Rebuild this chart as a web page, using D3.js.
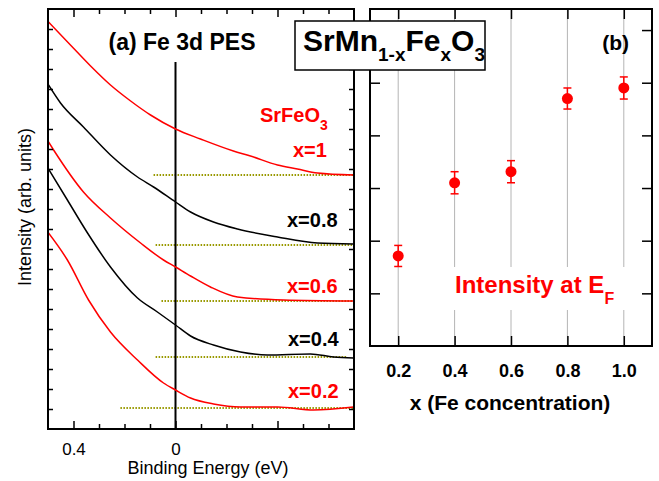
<!DOCTYPE html>
<html><head><meta charset="utf-8">
<script src="https://cdn.jsdelivr.net/npm/d3@7"></script>
<style>
body{margin:0;background:#fff;}
svg{font-family:"Liberation Sans",Arial,sans-serif;}
</style></head>
<body><svg id="c" width="659" height="481"></svg>
<script>
// ---- Panel (a): Fe 3d PES spectra (binding energy eV, intensity arb. units) ----
const seriesNames = ["x=1", "x=0.8", "x=0.6", "x=0.4", "x=0.2"];
const seriesColors = ["#ff0000", "#000000", "#ff0000", "#000000", "#ff0000"];
const specE_x10 = [0.498,0.412,0.333,0.255,0.176,0.098,0,-0.098,-0.227,-0.294,-0.4,-0.478,-0.557,-0.698];
const specI_x10 = [20.35,19.2,18.15,17.2,16.4,15.7,15.0,14.5,13.9,13.65,13.2,13.0,12.8,12.7];
const specE_x08 = [0.498,0.451,0.361,0.255,0.149,0.086,0,-0.059,-0.149,-0.243,-0.4,-0.557,-0.698];
const specI_x08 = [17.2,16.3,15.1,13.7,12.6,12.1,11.35,10.85,10.35,10.0,9.6,9.3,9.25];
const specE_x06 = [0.498,0.478,0.361,0.255,0.137,0.047,0,-0.059,-0.137,-0.243,-0.424,-0.698];
const specI_x06 = [14.35,13.95,11.85,10.55,9.3,8.45,8.1,7.65,7.1,6.6,6.45,6.4];
const specE_x04 = [0.498,0.424,0.345,0.255,0.149,0.071,0,-0.059,-0.149,-0.255,-0.361,-0.529,-0.62,-0.698];
const specI_x04 = [13.0,11.45,9.8,8.1,6.55,5.85,5.2,4.65,4.2,3.85,3.7,3.75,3.6,3.55];
const specE_x02 = [0.498,0.424,0.341,0.255,0.149,0.047,0,-0.059,-0.149,-0.255,-0.4,-0.541,-0.698];
const specI_x02 = [9.8,8.45,6.45,4.85,3.45,2.3,1.95,1.55,1.25,1.1,1.1,0.95,1.1];
// background (baseline) levels and start energies
const baseLevel = [12.7, 9.2, 6.4, 3.6, 1.05];
const baseStartE = [0.086, 0.078, 0.055, 0.078, 0.216];
const baseEndE = [-0.7, -0.7, -0.7, -0.671, -0.7];
const labelTextA = ["x=1", "x=0.8", "x=0.6", "x=0.4", "x=0.2"];
const eTickMajor = [0.4, 0, -0.4];
const eTickMinor = [0.3, 0.2, 0.1, -0.1, -0.2, -0.3, -0.5, -0.6];
const iTicks = d3.range(1, 21);

// ---- Panel (b): intensity at E_F vs Fe concentration ----
const feConc = [0.2, 0.4, 0.6, 0.8, 1.0];
const intensityEF = [1.71, 3.10, 3.31, 4.70, 4.90];
const intensityErr = [0.20, 0.21, 0.21, 0.20, 0.21];
const concTicks = [0.2, 0.4, 0.6, 0.8, 1.0];
const intTicks = [1, 2, 3, 4, 5, 6];

const svg = d3.select("#c");

// ===== Panel (a) =====
const ax = {l:48, r:354, t:9, b:429};
const xA = d3.scaleLinear().domain([0.5, -0.7]).range([ax.l, ax.r]);
const yA = d3.scaleLinear().domain([0, 21]).range([ax.b, ax.t]);

svg.append("defs").append("clipPath").attr("id","clipA")
  .append("rect").attr("x",ax.l).attr("y",ax.t).attr("width",ax.r-ax.l).attr("height",ax.b-ax.t);

const gA = svg.append("g");
const specs = [[specE_x10,specI_x10],[specE_x08,specI_x08],[specE_x06,specI_x06],[specE_x04,specI_x04],[specE_x02,specI_x02]];

// baselines
specs.forEach((s,i)=>{
  gA.append("line")
    .attr("x1", xA(baseStartE[i])).attr("x2", xA(baseEndE[i]))
    .attr("y1", yA(baseLevel[i])).attr("y2", yA(baseLevel[i]))
    .attr("stroke","#999900").attr("stroke-width",2).attr("stroke-dasharray","1.5,1.5");
});

// E=0 line
gA.append("line").attr("x1",xA(0)).attr("x2",xA(0)).attr("y1",62).attr("y2",ax.b)
  .attr("stroke","#000").attr("stroke-width",2);

const line = d3.line().x(d=>xA(d[0])).y(d=>yA(d[1])).curve(d3.curveMonotoneX);
specs.forEach((s,i)=>{
  const pts = s[0].map((e,j)=>[e, s[1][j]]);
  gA.append("path").attr("d", line(pts)).attr("fill","none")
    .attr("stroke", seriesColors[i]).attr("stroke-width",1.5).attr("clip-path","url(#clipA)");
});

// axes (inward ticks)
function noDomain(g){ g.select(".domain").remove(); g.selectAll("line").attr("stroke","#000").attr("stroke-width",1.5); }
gA.append("g").attr("transform",`translate(0,${ax.b})`)
  .call(d3.axisBottom(xA).tickValues(eTickMinor).tickSize(-5).tickFormat("")).call(noDomain);
gA.append("g").attr("transform",`translate(0,${ax.b})`)
  .call(d3.axisBottom(xA).tickValues(eTickMajor).tickSize(-8).tickPadding(8)
    .tickFormat(d => d === 0 ? "0" : (d > 0 ? d3.format(".1f")(d) : "")))
  .call(noDomain)
  .call(g=>g.selectAll("text").attr("font-size",17).attr("fill","#000").attr("font-family","Liberation Sans, Arial, sans-serif").attr("dy","1.05em"));
gA.append("g").attr("transform",`translate(0,${ax.t})`)
  .call(d3.axisTop(xA).tickValues(eTickMinor).tickSize(-5).tickFormat("")).call(noDomain);
gA.append("g").attr("transform",`translate(0,${ax.t})`)
  .call(d3.axisTop(xA).tickValues(eTickMajor).tickSize(-8).tickFormat("")).call(noDomain);
gA.append("g").attr("transform",`translate(${ax.l},0)`)
  .call(d3.axisLeft(yA).tickValues(iTicks).tickSize(-5).tickFormat("")).call(noDomain);
gA.append("g").attr("transform",`translate(${ax.r},0)`)
  .call(d3.axisRight(yA).tickValues(iTicks).tickSize(-5).tickFormat("")).call(noDomain);

gA.append("rect").attr("x",ax.l).attr("y",ax.t).attr("width",ax.r-ax.l).attr("height",ax.b-ax.t)
  .attr("fill","none").attr("stroke","#000").attr("stroke-width",2);

// labels panel a
gA.append("text").attr("x",182).attr("y",50).attr("text-anchor","middle")
  .attr("font-size",23).attr("font-weight","bold").text("(a) Fe 3d PES");
const sfo = gA.append("text").attr("x",260).attr("y",122).attr("font-size",20).attr("font-weight","bold").attr("fill","#ff0000");
sfo.append("tspan").text("SrFeO");
sfo.append("tspan").attr("dy",8).attr("font-size",14).text("3");
const labelY = [157, 227, 293, 346, 398];
const labelX = [293, 287, 287, 288, 288];
labelTextA.forEach((t,i)=>{
  gA.append("text").attr("x",labelX[i]).attr("y",labelY[i]).attr("font-size",20).attr("font-weight","bold")
    .attr("fill", seriesColors[i]).text(t);
});
gA.append("text").attr("transform","translate(31,207) rotate(-90)").attr("text-anchor","middle")
  .attr("font-size",18).text("Intensity (arb. units)");
gA.append("text").attr("x",208).attr("y",474).attr("text-anchor","middle")
  .attr("font-size",18).text("Binding Energy (eV)");

// ===== Panel (b) =====
const bx = {l:370, r:652, t:9, b:346};
const xB = d3.scaleLinear().domain([0.1, 1.1]).range([bx.l, bx.r]);
const yB = d3.scaleLinear().domain([0, 6.4]).range([bx.b, bx.t]);
const gB = svg.append("g");

// grid
gB.selectAll("line.grid").data(concTicks).join("line").attr("class","grid")
  .attr("x1",d=>xB(d)).attr("x2",d=>xB(d)).attr("y1",bx.t).attr("y2",bx.b)
  .attr("stroke","#b4b4b4").attr("stroke-width",1);
// white box behind label
gB.append("rect").attr("x",440).attr("y",267).attr("width",195).attr("height",43).attr("fill","#fff");

gB.append("g").attr("transform",`translate(0,${bx.b})`)
  .call(d3.axisBottom(xB).tickValues(concTicks).tickSize(-10).tickPadding(12).tickFormat(d3.format(".1f")))
  .call(noDomain)
  .call(g=>g.selectAll("text").attr("font-size",18).attr("font-weight","bold").attr("fill","#000").attr("font-family","Liberation Sans, Arial, sans-serif").attr("dy","1.05em"));
gB.append("g").attr("transform",`translate(0,${bx.t})`)
  .call(d3.axisTop(xB).tickValues(concTicks).tickSize(-10).tickFormat("")).call(noDomain);
gB.append("g").attr("transform",`translate(${bx.l},0)`)
  .call(d3.axisLeft(yB).tickValues(intTicks).tickSize(-10).tickFormat("")).call(noDomain);
gB.append("g").attr("transform",`translate(${bx.r},0)`)
  .call(d3.axisRight(yB).tickValues(intTicks).tickSize(-10).tickFormat("")).call(noDomain);

gB.append("rect").attr("x",bx.l).attr("y",bx.t).attr("width",bx.r-bx.l).attr("height",bx.b-bx.t)
  .attr("fill","none").attr("stroke","#000").attr("stroke-width",2);

// error bars & points
const pts = feConc.map((c,i)=>({c, v:intensityEF[i], e:intensityErr[i]}));
const eb = gB.selectAll("g.eb").data(pts).join("g").attr("class","eb").attr("stroke","#ff0000").attr("stroke-width",1.5);
eb.append("line").attr("x1",d=>xB(d.c)).attr("x2",d=>xB(d.c)).attr("y1",d=>yB(d.v-d.e)).attr("y2",d=>yB(d.v+d.e));
eb.append("line").attr("x1",d=>xB(d.c)-4).attr("x2",d=>xB(d.c)+4).attr("y1",d=>yB(d.v-d.e)).attr("y2",d=>yB(d.v-d.e));
eb.append("line").attr("x1",d=>xB(d.c)-4).attr("x2",d=>xB(d.c)+4).attr("y1",d=>yB(d.v+d.e)).attr("y2",d=>yB(d.v+d.e));
gB.selectAll("circle").data(pts).join("circle").attr("cx",d=>xB(d.c)).attr("cy",d=>yB(d.v)).attr("r",5.5).attr("fill","#ff0000");

gB.append("text").attr("x",629).attr("y",50).attr("text-anchor","end").attr("font-size",21).attr("font-weight","bold").text("(b)");
const ief = gB.append("text").attr("x",455).attr("y",293).attr("font-size",24).attr("font-weight","bold").attr("fill","#ff0000");
ief.append("tspan").text("Intensity at E");
ief.append("tspan").attr("dy",11).attr("font-size",16).text("F");
gB.append("text").attr("x",510).attr("y",410).attr("text-anchor","middle").attr("font-size",21).attr("font-weight","bold")
  .text("x (Fe concentration)");

// ===== Title box =====
svg.append("rect").attr("x",295).attr("y",21).attr("width",190).attr("height",49)
  .attr("fill","#fff").attr("stroke","#000").attr("stroke-width",1.5);
const tt = svg.append("text").attr("x",303).attr("y",51).attr("font-size",30).attr("font-weight","bold");
tt.append("tspan").text("SrMn");
tt.append("tspan").attr("dy",10).attr("font-size",19).text("1-x");
tt.append("tspan").attr("dy",-10).text("Fe");
tt.append("tspan").attr("dy",10).attr("font-size",19).text("x");
tt.append("tspan").attr("dy",-10).text("O");
tt.append("tspan").attr("dy",10).attr("font-size",19).text("3");
</script></body></html>
